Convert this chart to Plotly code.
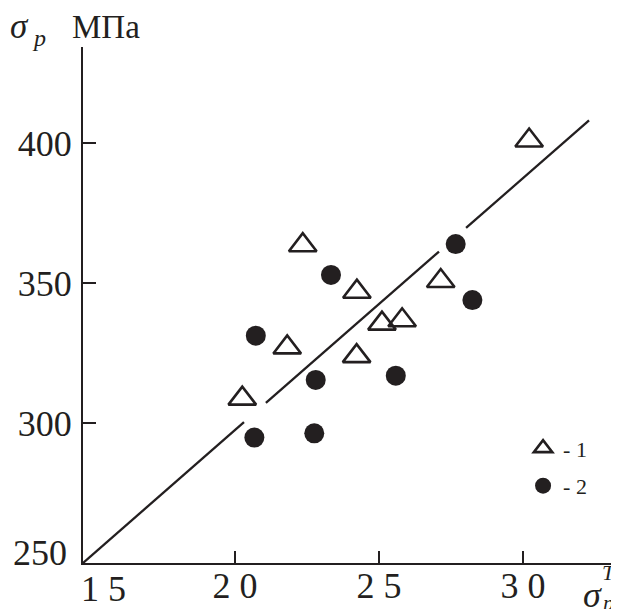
import plotly.graph_objects as go

# Series 1 (triangles)
tri_x = [20.25, 21.81, 22.35, 24.22, 24.23, 25.10, 25.80, 27.14, 30.21]
tri_y = [308.7, 327.0, 363.5, 323.9, 346.9, 335.5, 336.7, 350.7, 400.9]
# Series 2 (circles)
dot_x = [20.67, 20.72, 22.75, 22.80, 23.33, 25.58, 27.66, 28.24]
dot_y = [294.8, 331.2, 296.3, 315.4, 352.9, 316.9, 363.9, 343.9]

# Regression line y = y0 + slope*(x - x0), drawn with breaks
line_x0, line_y0 = 14.72, 250.0
line_slope = 9.0
line_x_end = 32.29
line_gaps = [(20.31, 21.07), (27.08, 28.02)]

x_ticks = [20, 25, 30]
x_ticktext = ["2 0", "2 5", "3 0"]
y_ticks = [300, 350, 400]

INK = "#231f20"
FONT = "Liberation Serif"
TICK_SIZE = 36


def fy(x):
    return line_y0 + line_slope * (x - line_x0)


lx, ly = [], []
start = line_x0
for g0, g1 in line_gaps:
    lx += [start, g0, None]
    ly += [fy(start), fy(g0), None]
    start = g1
lx += [start, line_x_end]
ly += [fy(start), fy(line_x_end)]

fig = go.Figure()
fig.add_trace(go.Scatter(x=lx, y=ly, mode="lines", line=dict(color=INK, width=2.3),
                         showlegend=False, hoverinfo="skip"))
fig.add_trace(go.Scatter(x=tri_x, y=tri_y, mode="markers", name="- 1", legendgroup="a",
                         marker=dict(symbol="triangle-up-open", size=24, color=INK,
                                     line=dict(color=INK, width=2.6)),
                         cliponaxis=False))
fig.add_trace(go.Scatter(x=dot_x, y=dot_y, mode="markers", name="- 2", legendgroup="b",
                         marker=dict(symbol="circle", size=20, color=INK, line=dict(width=0)),
                         cliponaxis=False))


def ann(text, x, y, size, xanchor="center", yanchor="middle", xshift=0, yshift=0):
    return dict(text=text, xref="paper", yref="paper", x=x, y=y, xanchor=xanchor,
                yanchor=yanchor, xshift=xshift, yshift=yshift, showarrow=False,
                font=dict(size=size, family=FONT, color=INK))


# page body has an 8px margin, so the figure is 8px smaller than the window
fig.update_layout(
    width=611, height=601,
    margin=dict(l=75, r=0, t=39, b=46, autoexpand=False),
    paper_bgcolor="white", plot_bgcolor="white",
    font=dict(family=FONT, color=INK, size=TICK_SIZE),
    legend=dict(x=0.821, y=0.263, xanchor="left", yanchor="top",
                font=dict(size=22, family=FONT, color=INK),
                bgcolor="rgba(0,0,0,0)", traceorder="grouped", tracegroupgap=6),
    xaxis=dict(range=[14.72, 33.33], showgrid=False, zeroline=False, automargin=False,
               showline=True, linecolor=INK, linewidth=2,
               ticks="inside", ticklen=12, tickwidth=2, tickcolor=INK,
               tickvals=x_ticks, ticktext=x_ticktext, ticklabelstandoff=-10,
               tickfont=dict(size=TICK_SIZE, family=FONT, color=INK)),
    yaxis=dict(range=[250, 434.3], showgrid=False, zeroline=False, automargin=False,
               showline=True, linecolor=INK, linewidth=2,
               ticks="inside", ticklen=13, tickwidth=2, tickcolor=INK,
               tickvals=y_ticks, ticklabelstandoff=2,
               tickfont=dict(size=TICK_SIZE, family=FONT, color=INK)),
    annotations=[
        ann("250", 0, 0.019, TICK_SIZE, xanchor="right", xshift=-14),
        ann("1 5", 0, 0, TICK_SIZE, xanchor="left", yanchor="top", xshift=-4, yshift=-4),
        ann("<i>σ</i>", -0.118, 1.0, 35, yshift=21),
        ann("<i>p</i>", -0.083, 1.0, 24, yshift=9),
        ann("MПa", 0.043, 1.0, 33, yshift=20),
        ann("<i>σ</i>", 0.950, 0, 36, yshift=-32),
        ann("<i>T</i>", 0.982, 0, 22, yshift=-9),
        ann("<i>p</i>", 0.979, 0, 22, yshift=-39),
    ],
)

fig.write_html("out.html")
